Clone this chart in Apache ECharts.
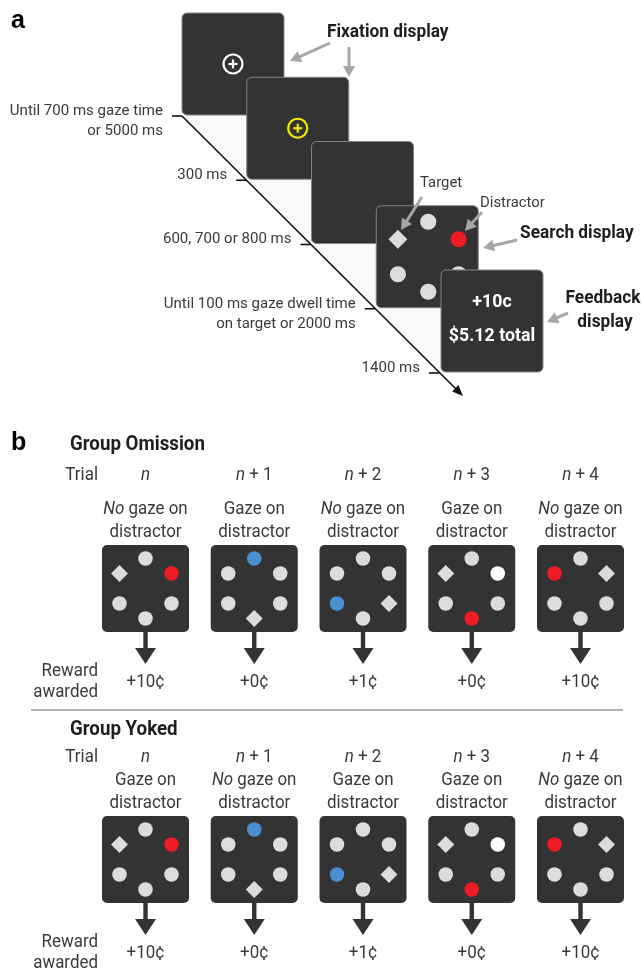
<!DOCTYPE html>
<html><head><meta charset="utf-8">
<script src="https://cdn.jsdelivr.net/npm/echarts@6/dist/echarts.min.js"></script>
<style>html,body{margin:0;padding:0;background:#fff}#c{width:644px;height:971px}</style>
</head><body><div id="c"></div>
<script>
// ---------------- content (data) ----------------
const timelineScreens = ["fixWhite", "fixYellow", "blank", "search", "feedback"];
const timelineLabels = [
  ["Until 700 ms gaze time", "or 5000 ms"],
  ["300 ms"],
  ["600, 700 or 800 ms"],
  ["Until 100 ms gaze dwell time", "on target or 2000 ms"],
  ["1400 ms"]
];
// slots: top, upper-left, upper-right, lower-left, lower-right, bottom
const searchItems = ["gray", "diamond", "red", "gray", "gray", "gray"];
const feedbackLines = ["+10c", "$5.12 total"];
const trialLabels = ["n", "n + 1", "n + 2", "n + 3", "n + 4"];
const omissionGaze = [false, true, false, true, false];
const yokedGaze = [true, false, true, true, false];
const rewards = ["+10¢", "+0¢", "+1¢", "+0¢", "+10¢"];
const trialDisplays = [
  ["gray", "diamond", "red", "gray", "gray", "gray"],
  ["blue", "gray", "gray", "gray", "gray", "diamond"],
  ["gray", "gray", "gray", "blue", "diamond", "gray"],
  ["gray", "diamond", "white", "gray", "gray", "red"],
  ["gray", "red", "diamond", "gray", "gray", "gray"]
];
const groupNames = ["Group Omission", "Group Yoked"];

// ---------------- layout & style ----------------
const FONT = 'Roboto, "Noto Sans", sans-serif';
const C = {panel: '#333333', gray: '#dcdcdc', diamond: '#dcdcdc', red: '#ed1c24', blue: '#4a8fd1',
  white: '#ffffff', yellow: '#f2e500', arrow: '#a6a6a6', text: '#3a3a3a', bold: '#1e1e1e', line: '#111111'};
const A = {x0: 182, y0: 13, sx: 64.75, sy: 64.25, size: 102};
const B = {x0: 145.5, dx: 108.75, size: 87};
const ring = [[0, -30], [-26, -15], [26, -15], [-26, 15], [26, 15], [0, 30]];
const groupLayout = [
  {top: 545, titleY: 445, trialY: 475},
  {top: 816, titleY: 730, trialY: 757}
];
const groupGaze = [omissionGaze, yokedGaze];
const BT = {fontSize: 18, sx: 0.94}; // part b body text

// ---------------- helpers ----------------
function seg(api, a, b, style) {
  const p = api.coord(a), q = api.coord(b);
  return {type: 'line', shape: {x1: p[0], y1: p[1], x2: q[0], y2: q[1]}, style: style};
}
function poly(api, pts, style) {
  return {type: 'polygon', shape: {points: pts.map(p => api.coord(p))}, style: style};
}
function rrect(api, x, y, w, h, r, style) {
  const p = api.coord([x, y]), q = api.coord([x + w, y + h]);
  return {type: 'rect', shape: {x: p[0], y: p[1], width: q[0] - p[0], height: q[1] - p[1], r: r}, style: style};
}
function circ(api, cx, cy, r, style) {
  const p = api.coord([cx, cy]);
  return {type: 'circle', shape: {cx: p[0], cy: p[1], r: r}, style: style};
}
function txt(api, x, y, str, o, sx) {
  const p = api.coord([x, y]);
  const el = {type: 'text', x: p[0], y: p[1], style: Object.assign({text: str, fill: C.text, fontSize: 15,
    fontFamily: FONT, fontWeight: 'normal', align: 'left', verticalAlign: 'middle'}, o || {})};
  if (sx) el.scaleX = sx;
  return el;
}
function head(api, from, tip, len, hw, fill) {
  const dx = tip[0] - from[0], dy = tip[1] - from[1], d = Math.hypot(dx, dy);
  const ux = dx / d, uy = dy / d, bx = tip[0] - ux * len, by = tip[1] - uy * len;
  return poly(api, [tip, [bx - uy * hw, by + ux * hw], [bx + uy * hw, by - ux * hw]], {fill: fill});
}
function grayArrow(api, from, tip) {
  const dx = tip[0] - from[0], dy = tip[1] - from[1], d = Math.hypot(dx, dy);
  const base = [tip[0] - dx / d * 9, tip[1] - dy / d * 9];
  return [seg(api, from, base, {stroke: C.arrow, lineWidth: 3}), head(api, from, tip, 11, 6, C.arrow)];
}
function italicN(s) { return s.replace(/^n/, '{i|n}'); }
function item(api, kind, x, y, s) {
  if (kind === 'diamond') {
    const h = 9 * s;
    return poly(api, [[x, y - h], [x + h, y], [x, y + h], [x - h, y]], {fill: C.diamond});
  }
  return circ(api, x, y, 7.7 * s, {fill: C[kind]});
}

// ---------------- render functions ----------------
function renderBackdrop(params, api) {
  const ch = [];
  const stair = [];
  for (let i = 0; i < 5; i++) {
    const L = A.x0 + i * A.sx, T = A.y0 + i * A.sy;
    stair.push([L, T + A.size]);
    if (i < 4) stair.push([A.x0 + (i + 1) * A.sx, T + A.size]);
  }
  stair.push([A.x0 + 4 * A.sx - 2, A.y0 + 4 * A.sy + A.size]);
  ch.push(poly(api, stair, {fill: '#fafafa'}));
  const start = [A.x0, A.y0 + A.size + 1], tip = [463, 396];
  ch.push(seg(api, start, [tip[0] - 6, tip[1] - 6], {stroke: C.line, lineWidth: 1.6}));
  ch.push(head(api, start, tip, 11, 4.5, C.line));
  return {type: 'group', children: ch};
}

function renderTimeline(params, api) {
  const i = api.value(0);
  const L = A.x0 + i * A.sx, T = A.y0 + i * A.sy, S = A.size;
  const cx = L + S / 2, cy = T + S / 2;
  const ch = [];
  const ty = A.y0 + S + 1 + i * A.sy, lx = A.x0 + (ty - (A.y0 + S + 1));
  ch.push(seg(api, [lx - 10, ty], [lx, ty], {stroke: C.line, lineWidth: 1.6}));
  timelineLabels[i].forEach((s, k) => ch.push(txt(api, lx - 19, ty - 5 + k * 20.5, s, {align: 'right', fontSize: 15.5}, 0.97)));
  ch.push(rrect(api, L, T, S, S, 5, {fill: C.panel, stroke: '#858585', lineWidth: 1}));
  const kind = timelineScreens[i];
  if (kind === 'fixWhite' || kind === 'fixYellow') {
    const col = kind === 'fixWhite' ? '#ffffff' : C.yellow;
    ch.push(circ(api, cx, cy, 9.5, {fill: 'none', stroke: col, lineWidth: 2.2}));
    ch.push(seg(api, [cx - 4.5, cy], [cx + 4.5, cy], {stroke: col, lineWidth: 2.2}));
    ch.push(seg(api, [cx, cy - 4.5], [cx, cy + 4.5], {stroke: col, lineWidth: 2.2}));
  } else if (kind === 'search') {
    const s = 35 / 30;
    searchItems.forEach((k, j) => ch.push(item(api, k, cx + 1 + ring[j][0] * s, cy + ring[j][1] * s, 1.05)));
  } else if (kind === 'feedback') {
    feedbackLines.forEach((s, k) => ch.push(txt(api, cx, cy - 19 + k * 34, s,
      {align: 'center', fill: '#ffffff', fontWeight: 'bold', fontSize: 18.5}, 0.96)));
  }
  return {type: 'group', children: ch};
}

function renderTrial(params, api) {
  const g = api.value(0), i = api.value(1);
  const lay = groupLayout[g], T = lay.top, S = B.size;
  const cx = B.x0 + i * B.dx;
  const ch = [];
  const rich = {i: {fontStyle: 'italic', fontSize: BT.fontSize, fontFamily: FONT, fill: C.text}};
  ch.push(txt(api, cx, lay.trialY, italicN(trialLabels[i]), {align: 'center', fontSize: BT.fontSize, rich: rich}, BT.sx));
  const gaze = groupGaze[g][i];
  ch.push(txt(api, cx, T - 36, gaze ? 'Gaze on' : '{i|No} gaze on', {align: 'center', fontSize: BT.fontSize, rich: rich}, BT.sx));
  ch.push(txt(api, cx, T - 12.5, 'distractor', {align: 'center', fontSize: BT.fontSize}, BT.sx));
  ch.push(rrect(api, cx - S / 2, T, S, S, 5, {fill: C.panel}));
  ch.push(rrect(api, cx - 2.2, T + S - 1, 4.4, 18, 0, {fill: C.panel}));
  ch.push(poly(api, [[cx - 10.5, T + 103], [cx + 10.5, T + 103], [cx, T + 119]], {fill: C.panel}));
  ch.push(txt(api, cx, T + 137.5, rewards[i], {align: 'center', fontSize: BT.fontSize}, BT.sx));
  return {type: 'group', children: ch};
}

function renderStatic(params, api) {
  const ch = [];
  const arial = '"Liberation Sans", Arial, sans-serif';
  ch.push(txt(api, 11, 21, 'a', {fontWeight: 'bold', fontSize: 25, fill: '#000', fontFamily: arial}));
  ch.push(txt(api, 11, 443, 'b', {fontWeight: 'bold', fontSize: 25, fill: '#000', fontFamily: arial}));
  const bold = {fontWeight: 'bold', fontSize: 18, fill: C.bold};
  ch.push(txt(api, 327, 32, 'Fixation display', bold, 0.96));
  ch.push(...grayArrow(api, [330, 43], [290, 61]));
  ch.push(...grayArrow(api, [349, 47], [349, 77]));
  ch.push(txt(api, 420, 183, 'Target', {fontSize: 15.5}, 0.96));
  ch.push(...grayArrow(api, [422, 197], [401, 230]));
  ch.push(txt(api, 480, 203, 'Distractor', {fontSize: 15.5}, 0.96));
  ch.push(...grayArrow(api, [482, 212], [465, 231]));
  ch.push(txt(api, 520, 233, 'Search display', bold, 0.96));
  ch.push(...grayArrow(api, [517, 240], [483, 248]));
  ch.push(txt(api, 603, 298, 'Feedback', Object.assign({align: 'center'}, bold), 0.96));
  ch.push(txt(api, 605, 322, 'display', Object.assign({align: 'center'}, bold), 0.96));
  ch.push(...grayArrow(api, [568, 313], [547, 322]));
  groupNames.forEach((name, g) => {
    const lay = groupLayout[g];
    ch.push(txt(api, 70, lay.titleY, name, {fontWeight: 'bold', fontSize: 19.5, fill: C.bold}, 0.96));
    ch.push(txt(api, 98, lay.trialY, 'Trial', {align: 'right', fontSize: BT.fontSize}, BT.sx));
    ch.push(txt(api, 98, lay.top + 126.5, 'Reward', {align: 'right', fontSize: BT.fontSize}, BT.sx));
    ch.push(txt(api, 98, lay.top + 147.5, 'awarded', {align: 'right', fontSize: BT.fontSize}, BT.sx));
  });
  ch.push(seg(api, [31, 710], [623, 710], {stroke: '#9a9a9a', lineWidth: 1.5}));
  return {type: 'group', children: ch};
}

// ---------------- build series data ----------------
const trialData = [];
groupNames.forEach((n, g) => trialLabels.forEach((t, i) => trialData.push([g, i])));
const itemData = [];
groupNames.forEach((n, g) => trialDisplays.forEach((disp, i) => disp.forEach((kind, j) => {
  const cx = B.x0 + i * B.dx, cy = groupLayout[g].top + B.size / 2;
  itemData.push({
    value: [cx + ring[j][0], cy + ring[j][1]],
    symbol: kind === 'diamond' ? 'diamond' : 'circle',
    symbolSize: kind === 'diamond' ? 17 : 14.5,
    itemStyle: {color: C[kind], opacity: 1}
  });
})));

const chart = echarts.init(document.getElementById('c'), null, {renderer: 'canvas', width: 644, height: 971});
chart.setOption({
  animation: false,
  backgroundColor: '#ffffff',
  grid: {left: 0, right: 0, top: 0, bottom: 0},
  xAxis: {type: 'value', min: 0, max: 644, show: false},
  yAxis: {type: 'value', min: 0, max: 971, inverse: true, show: false},
  series: [
    {type: 'custom', coordinateSystem: 'cartesian2d', renderItem: renderBackdrop, data: [[0, 0]], z: 1, silent: true},
    {type: 'custom', coordinateSystem: 'cartesian2d', renderItem: renderTimeline,
      data: timelineScreens.map((s, i) => [i, 0]), z: 2, silent: true},
    {type: 'custom', coordinateSystem: 'cartesian2d', renderItem: renderTrial, data: trialData, z: 2, silent: true,
      encode: {x: 0, y: 1}},
    {type: 'scatter', coordinateSystem: 'cartesian2d', data: itemData, z: 4, silent: true,
      itemStyle: {opacity: 1}},
    {type: 'custom', coordinateSystem: 'cartesian2d', renderItem: renderStatic, data: [[0, 0]], z: 5, silent: true}
  ]
});
</script>
</body></html>
